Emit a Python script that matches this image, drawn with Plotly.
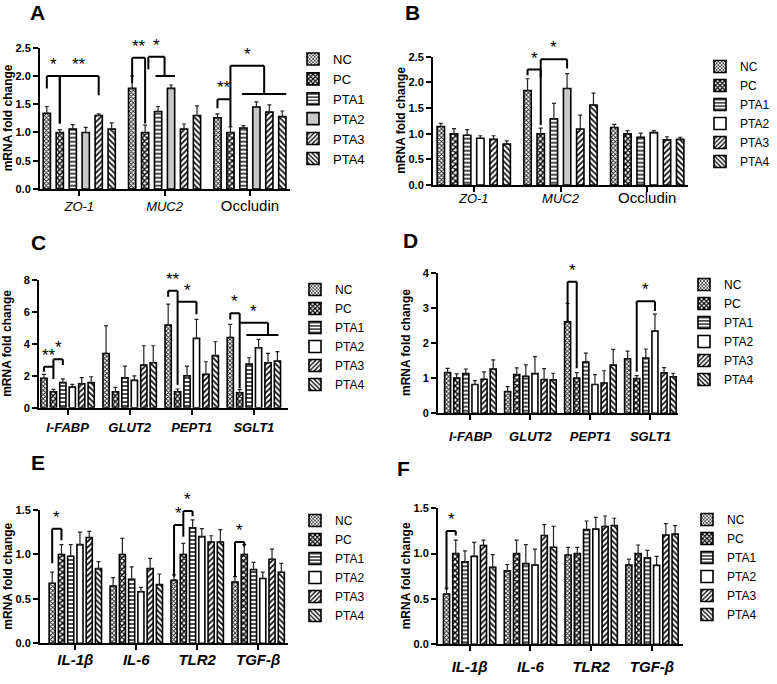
import plotly.graph_objects as go

W, H = 777, 684
FONT = "Arial, Liberation Sans, Helvetica, sans-serif"

GROUPS = ["NC", "PC", "PTA1", "PTA2", "PTA3", "PTA4"]

# ---------------- data (rows = groups NC..PTA4, columns = genes) ----------------
A_genes = ["ZO-1", "MUC2", "Occludin"]
A_mean = [[1.34, 1.78, 1.26], [1.00, 1.00, 1.00], [1.06, 1.37, 1.08],
          [1.00, 1.78, 1.45], [1.30, 1.06, 1.36], [1.06, 1.30, 1.28]]
A_sd = [[0.12, 0.22, 0.07], [0.05, 0.13, 0.10], [0.08, 0.09, 0.04],
        [0.09, 0.06, 0.09], [0.03, 0.09, 0.13], [0.11, 0.17, 0.10]]

B_genes = ["ZO-1", "MUC2", "Occludin"]
B_mean = [[1.14, 1.84, 1.12], [1.00, 1.00, 1.00], [0.97, 1.29, 0.93],
          [0.91, 1.88, 1.02], [0.89, 1.09, 0.88], [0.80, 1.56, 0.89]]
B_sd = [[0.06, 0.23, 0.06], [0.10, 0.11, 0.06], [0.11, 0.30, 0.08],
        [0.05, 0.29, 0.04], [0.07, 0.27, 0.06], [0.06, 0.23, 0.04]]

C_genes = ["I-FABP", "GLUT2", "PEPT1", "SGLT1"]
C_mean = [[1.84, 3.40, 5.18, 4.40], [1.00, 1.00, 1.00, 0.94], [1.57, 1.88, 2.00, 2.73],
          [1.29, 1.71, 4.34, 3.76], [1.50, 2.67, 2.09, 2.82], [1.57, 2.82, 3.26, 2.92]]
C_sd = [[0.25, 1.72, 1.31, 0.82], [0.15, 0.27, 0.17, 0.19], [0.23, 0.73, 0.61, 0.40],
        [0.17, 0.29, 1.19, 0.52], [0.38, 1.21, 0.79, 0.58], [0.37, 1.06, 0.87, 0.59]]

D_genes = ["I-FABP", "GLUT2", "PEPT1", "SGLT1"]
D_mean = [[1.16, 0.62, 2.60, 1.55], [1.00, 1.10, 1.00, 0.99], [1.13, 1.05, 1.46, 1.57],
          [0.82, 1.13, 0.82, 2.34], [0.97, 0.96, 0.86, 1.15], [1.26, 0.95, 1.37, 1.04]]
D_sd = [[0.12, 0.14, 0.53, 0.22], [0.12, 0.19, 0.16, 0.08], [0.13, 0.33, 0.25, 0.26],
        [0.11, 0.48, 0.28, 0.48], [0.21, 0.31, 0.35, 0.15], [0.26, 0.19, 0.45, 0.10]]

E_genes = ["IL-1β", "IL-6", "TLR2", "TGF-β"]
E_mean = [[0.675, 0.645, 0.71, 0.69], [1.00, 1.00, 1.00, 1.00], [0.98, 0.72, 1.30, 0.83],
          [1.11, 0.58, 1.20, 0.73], [1.19, 0.84, 1.14, 0.945], [0.84, 0.66, 1.14, 0.80]]
E_sd = [[0.125, 0.095, 0.06, 0.06], [0.11, 0.18, 0.125, 0.11], [0.13, 0.14, 0.09, 0.08],
        [0.14, 0.05, 0.09, 0.07], [0.07, 0.115, 0.07, 0.115], [0.08, 0.12, 0.14, 0.10]]

F_genes = ["IL-1β", "IL-6", "TLR2", "TGF-β"]
F_mean = [[0.555, 0.81, 0.985, 0.875], [1.00, 1.00, 1.00, 1.00], [0.91, 0.89, 1.265, 0.955],
          [0.97, 0.875, 1.27, 0.87], [1.09, 1.20, 1.30, 1.205], [0.85, 1.07, 1.31, 1.215]]
F_sd = [[0.065, 0.07, 0.085, 0.065], [0.15, 0.15, 0.07, 0.095], [0.12, 0.21, 0.095, 0.08],
        [0.155, 0.175, 0.13, 0.10], [0.06, 0.12, 0.115, 0.125], [0.14, 0.23, 0.08, 0.095]]

# significance brackets: (gene, group a, group b, top, a_low, b_low, label)
A_sig = [(0, 0, 1, 2.0, 1.78, 1.16, "*"), (0, 1, 4, 2.0, 1.16, 1.66, "**"),
         (1, 0, 1, 2.32, 1.87, 1.16, "**"), (2, 0, 1, 1.59, 1.43, 1.10, "**")]
# group brackets: (gene, group a, right x (group units), top, a_low, group_y, g_from, g_to, label)
A_grp = [(1, 1.25, 2.5, 2.34, 2.12, 2.0, 1.8, 3.3, "*"),
         (2, 1.0, 3.6, 2.18, 1.59, 1.68, 1.9, 5.3, "*")]
B_sig = [(1, 0, 1, 2.25, 2.14, 1.17, "*"), (1, 1, 3, 2.45, 2.10, 2.27, "*")]
B_grp = []
C_sig = [(0, 0, 1, 2.57, 2.25, 1.80, "**"), (0, 1, 2, 3.03, 2.57, 2.67, "*"),
         (2, 0, 1, 7.33, 6.95, 1.42, "**"), (2, 1, 3, 6.64, 6.64, 5.85, "*"),
         (3, 0, 1, 5.91, 5.53, 1.20, "*")]
C_grp = [(3, 1.0, 4.0, 5.32, 5.32, 4.55, 1.7, 5.1, "*")]
D_sig = [(2, 0, 1, 3.74, 2.60, 1.28, "*"), (3, 1, 3, 3.19, 1.18, 2.91, "*")]
D_grp = []
E_sig = [(0, 0, 1, 1.29, 0.90, 1.16, "*"), (2, 0, 1, 1.33, 0.75, 1.20, "*"),
         (2, 1, 2, 1.49, 1.33, 1.43, "*"), (3, 0, 1, 1.14, 0.75, 1.09, "*")]
E_grp = []
F_sig = [(0, 0, 1, 1.25, 0.60, 1.20, "*")]
F_grp = []

# ---------------- styling ----------------
PATTERNS = [
    dict(shape="x", fgcolor="#222222", bgcolor="#8c8c8c", size=3, solidity=0.5),
    dict(shape="x", fgcolor="black", bgcolor="white", size=4, solidity=0.6),
    dict(shape="-", fgcolor="black", bgcolor="white", size=4, solidity=0.35),
    dict(shape="", fgcolor="black", bgcolor="white"),
    dict(shape="/", fgcolor="black", bgcolor="white", size=4, solidity=0.4),
    dict(shape="\\", fgcolor="black", bgcolor="white", size=4, solidity=0.4),
]

panels = [
    dict(letter="A", genes=A_genes, mean=A_mean, sd=A_sd, sig=A_sig, grp=A_grp,
         box=(40, 290, 47.7, 189), ymax=2.5, dtick=0.5, fmt=".1f", xr=(-0.46, 2.47),
         bw=0.085, leg=(293, 44), legfont=13, lab=(37, 13),
         tick=dict(size=13, weight="normal"), standoff=-1,
         ticktext=["<i>ZO-1</i>", "<i>MUC2</i>", "<span style='font-size:15px'>Occludin</span>"],
         pta2fill=["#c8c8c8", "#c8c8c8", "#c8c8c8"]),
    dict(letter="B", genes=B_genes, mean=B_mean, sd=B_sd, sig=B_sig, grp=B_grp,
         box=(433, 688, 56.7, 185), ymax=2.5, dtick=0.5, fmt=".1f", xr=(-0.47, 2.47),
         bw=0.085, leg=(700, 52), legfont=12, lab=(412, 13),
         tick=dict(size=13, weight="normal"), standoff=-5,
         ticktext=["<i>ZO-1</i>", "<i>MUC2</i>", "<span style='font-size:15px'>Occludin</span>"],
         pta2fill=["white", "#c8c8c8", "white"]),
    dict(letter="C", genes=C_genes, mean=C_mean, sd=C_sd, sig=C_sig, grp=C_grp,
         box=(39, 288, 280, 407.7), ymax=8, dtick=2, fmt="d", xr=(-0.46, 3.55),
         bw=0.1, leg=(295, 275), legfont=12, lab=(38, 242),
         tick=dict(size=13, weight="bold"), standoff=2,
         ticktext=None, pta2fill=None),
    dict(letter="D", genes=D_genes, mean=D_mean, sd=D_sd, sig=D_sig, grp=D_grp,
         box=(438, 678, 272.7, 413.3), ymax=4, dtick=1, fmt="d", xr=(-0.54, 3.46),
         bw=0.1, leg=(684, 270), legfont=12, lab=(410, 240),
         tick=dict(size=13, weight="bold"), standoff=5,
         ticktext=None, pta2fill=None),
    dict(letter="E", genes=E_genes, mean=E_mean, sd=E_sd, sig=E_sig, grp=E_grp,
         box=(40, 288, 510, 643.3), ymax=1.5, dtick=0.5, fmt=".1f", xr=(-0.58, 3.49),
         bw=0.1, leg=(295, 506), legfont=12, lab=(38, 462),
         tick=dict(size=15, weight="bold"), standoff=-3,
         ticktext=None, pta2fill=None),
    dict(letter="F", genes=F_genes, mean=F_mean, sd=F_sd, sig=F_sig, grp=F_grp,
         box=(438, 683, 508.3, 644.3), ymax=1.5, dtick=0.5, fmt=".1f", xr=(-0.52, 3.51),
         bw=0.1, leg=(687, 505), legfont=12, lab=(403, 468),
         tick=dict(size=15, weight="bold"), standoff=3,
         ticktext=None, pta2fill=None),
]

STEP = 0.152


def fx(p):
    return p / W


def fy(p):
    return 1 - p / H


def bx(c, j):
    return c + (j - 2.5) * STEP


fig = go.Figure()
shapes, annotations = [], []
layout = {}

for k, p in enumerate(panels, start=1):
    sfx = "" if k == 1 else str(k)
    xa, ya = "x" + sfx, "y" + sfx
    legname = "legend" + sfx
    n = len(p["genes"])
    for j, g in enumerate(GROUPS):
        pat = dict(PATTERNS[j])
        color = pat.pop("bgcolor")
        if j == 3 and p["pta2fill"] is not None:
            color = p["pta2fill"]
        xs = [bx(c, j) for c in range(n)]
        fig.add_trace(go.Bar(
            x=xs, y=p["mean"][j], width=p["bw"], name=g,
            xaxis=xa, yaxis=ya, legend=legname,
            marker=dict(color=color, line=dict(color="black", width=1.6),
                        pattern=pat if pat.get("shape") else None),
            error_y=dict(type="data", array=p["sd"][j], arrayminus=[0] * n,
                         symmetric=False, color="#222222", thickness=1.2, width=2),
            hoverinfo="skip",
        ))
    x0, x1, y0, y1 = p["box"]
    if p["ticktext"] is not None:
        ttext = p["ticktext"]
    else:
        ttext = ["<i>%s</i>" % gname for gname in p["genes"]]
    layout["xaxis" + sfx] = dict(
        domain=[fx(x0), fx(x1)], anchor=ya, range=list(p["xr"]), automargin=False,
        tickvals=list(range(n)), ticktext=ttext, ticks="outside", ticklen=5,
        tickwidth=1.5, tickcolor="black", showline=True, linewidth=2, linecolor="black",
        showgrid=False, zeroline=False, ticklabelstandoff=p["standoff"],
        tickfont=dict(family=FONT, color="black", size=p["tick"]["size"],
                      weight=p["tick"]["weight"]),
        fixedrange=True,
    )
    layout["yaxis" + sfx] = dict(
        domain=[fy(y1), fy(y0)], anchor=xa, range=[0, p["ymax"]], dtick=p["dtick"],
        tick0=0, tickformat=p["fmt"], ticks="outside", ticklen=5, tickwidth=1.5,
        tickcolor="black", showline=True, linewidth=2, linecolor="black",
        showgrid=False, zeroline=False, automargin=False,
        tickfont=dict(family=FONT, color="black", size=11, weight="bold"),
        fixedrange=True,
    )
    lx, ly = p["leg"]
    layout[legname] = dict(
        x=fx(lx), y=fy(ly), xanchor="left", yanchor="top", xref="paper", yref="paper",
        bgcolor="rgba(0,0,0,0)", borderwidth=0, tracegroupgap=0,
        font=dict(family=FONT, size=p["legfont"], color="black"),
    )
    # y-axis title
    annotations.append(dict(
        text="mRNA fold change", textangle=-90, xref="paper", yref="paper",
        x=fx(x0 - 32), y=fy((y0 + y1) / 2), xanchor="center", yanchor="middle",
        showarrow=False, font=dict(family=FONT, size=12, color="black", weight="bold"),
    ))
    # panel letter
    annotations.append(dict(
        text="<b>%s</b>" % p["letter"], xref="paper", yref="paper",
        x=fx(p["lab"][0]), y=fy(p["lab"][1]), xanchor="center", yanchor="middle",
        showarrow=False, font=dict(family=FONT, size=21, color="black"),
    ))

    def line(xa_, ya_, xb_, yb_):
        shapes.append(dict(type="line", xref=xa, yref=ya, x0=xa_, y0=ya_, x1=xb_, y1=yb_,
                           line=dict(color="black", width=2)))

    for (c, a, b, top, alow, blow, lab) in p["sig"]:
        xa_, xb_ = bx(c, a), bx(c, b)
        line(xa_, alow, xa_, top)
        line(xa_, top, xb_, top)
        line(xb_, top, xb_, blow)
        annotations.append(dict(text=lab, xref=xa, yref=ya, x=(xa_ + xb_) / 2, y=top,
                                xanchor="center", yanchor="bottom", showarrow=False,
                                font=dict(family=FONT, size=17, color="black")))
    for (c, a, b, top, alow, gy, gfrom, gto, lab) in p["grp"]:
        xa_, xb_ = bx(c, a), bx(c, b)
        line(xa_, alow, xa_, top)
        line(xa_, top, xb_, top)
        line(xb_, top, xb_, gy)
        line(bx(c, gfrom), gy, bx(c, gto), gy)
        annotations.append(dict(text=lab, xref=xa, yref=ya, x=(xa_ + xb_) / 2, y=top,
                                xanchor="center", yanchor="bottom", showarrow=False,
                                font=dict(family=FONT, size=17, color="black")))

fig.update_layout(
    template="none",
    width=W, height=H, margin=dict(l=0, r=0, t=0, b=0, autoexpand=False),
    paper_bgcolor="white", plot_bgcolor="white", barmode="overlay",
    font=dict(family=FONT, color="black"), shapes=shapes, annotations=annotations,
    showlegend=True, **layout,
)

fig.write_html(
    "out.html",
    config={"displayModeBar": False},
    post_script="document.body.style.margin='0';document.body.style.overflow='hidden';",
)
